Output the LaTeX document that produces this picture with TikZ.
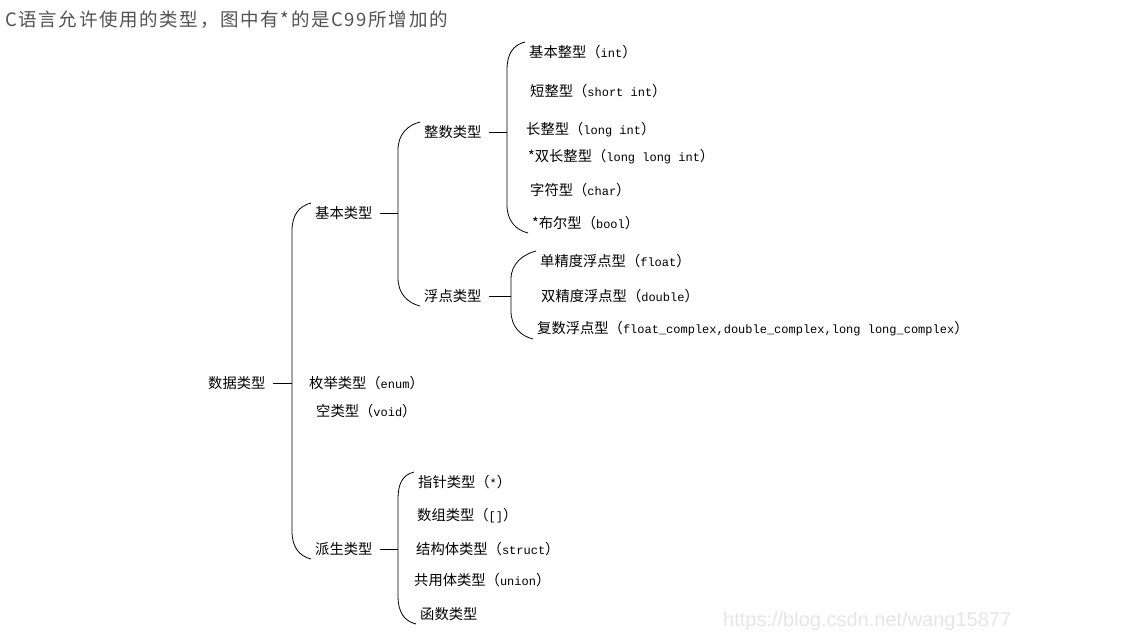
\documentclass[tikz,border=0pt]{standalone}
\usepackage{fontspec}
\newfontfamily\cn{Noto Sans CJK SC}
\newfontfamily\titlefont[LetterSpace=9]{Noto Sans CJK SC}
\newfontfamily\mono{Liberation Mono}
\newfontfamily\wm{Liberation Sans}
\usetikzlibrary{calc}
\newcommand\kw[1]{{\mono\fontsize{12}{14}\selectfont #1}}
% #1 parent, #2 first child, #3 last child, #4 x of the bar
\newcommand\Bracket[4]{
\coordinate (bar) at (#4,0);
\coordinate (t) at ([xshift=-4pt,yshift=10pt]#2.west);
\coordinate (b) at ([xshift=-4pt,yshift=-10pt]#3.west);
\draw[line]
  ([xshift=7pt]#1.east) -- (#1.east -| bar);
\draw[line]
  (t) .. controls +(-12pt,-3pt) and +(0pt,16pt) .. ($(bar |- t)+(0pt,-28pt)$)
  -- ($(bar |- b)+(0pt,28pt)$) .. controls +(0pt,-16pt) and +(-12pt,3pt) .. (b);
}

\begin{document}
\begin{tikzpicture}[x=1pt,y=-1pt,
  line/.style={line width=0.8pt},
  lbl/.style={anchor=west,inner sep=0pt,font=\cn\fontsize{14.3}{16}\selectfont}]
\useasboundingbox (0,0) rectangle (1133,642);

\node[anchor=west,inner sep=0pt,text=black!68,font=\titlefont\fontsize{18.5}{20}\selectfont] (title) at (5,20)
  {C语言允许使用的类型，图中有*的是C99所增加的};

\node[lbl] (root) at (208,383) {数据类型};

\node[lbl] (basic) at (315,213) {基本类型};
\node[lbl] (enum) at (309,383) {枚举类型（\kw{enum}）};
\node[lbl] (void) at (316,411) {空类型（\kw{void}）};
\node[lbl] (deriv) at (315,549) {派生类型};

\node[lbl] (int) at (424,132) {整数类型};
\node[lbl] (flt) at (424,296) {浮点类型};

\node[lbl] (i1) at (529,52) {基本整型（\kw{int}）};
\node[lbl] (i2) at (530,91) {短整型（\kw{short int}）};
\node[lbl] (i3) at (526,130) {长整型（\kw{long int}）};
\node[lbl] (i4) at (528,157) {*双长整型（\kw{long long int}）};
\node[lbl] (i5) at (530,190) {字符型（\kw{char}）};
\node[lbl] (i6) at (532,223) {*布尔型（\kw{bool}）};

\node[lbl] (f1) at (540,261) {单精度浮点型（\kw{float}）};
\node[lbl] (f2) at (541,296) {双精度浮点型（\kw{double}）};
\node[lbl] (f3) at (537,329) {复数浮点型（\kw{float\_complex,double\_complex,long long\_complex}）};

\node[lbl] (d1) at (418,482) {指针类型（\kw{*}）};
\node[lbl] (d2) at (417,516) {数组类型（\kw{[]}）};
\node[lbl] (d3) at (416,549) {结构体类型（\kw{struct}）};
\node[lbl] (d4) at (414,580) {共用体类型（\kw{union}）};
\node[lbl] (d5) at (420,614) {函数类型};

\Bracket{root}{basic}{deriv}{292}
\Bracket{basic}{int}{flt}{398}
\Bracket{int}{i1}{i6}{507}
\Bracket{flt}{f1}{f3}{511}
\Bracket{deriv}{d1}{d5}{398}

\node[anchor=west,inner sep=0pt,text=black!10,font=\wm\fontsize{20}{22}\selectfont] (mark) at (723,621)
  {https://blog.csdn.net/wang15877};
\end{tikzpicture}
\end{document}
